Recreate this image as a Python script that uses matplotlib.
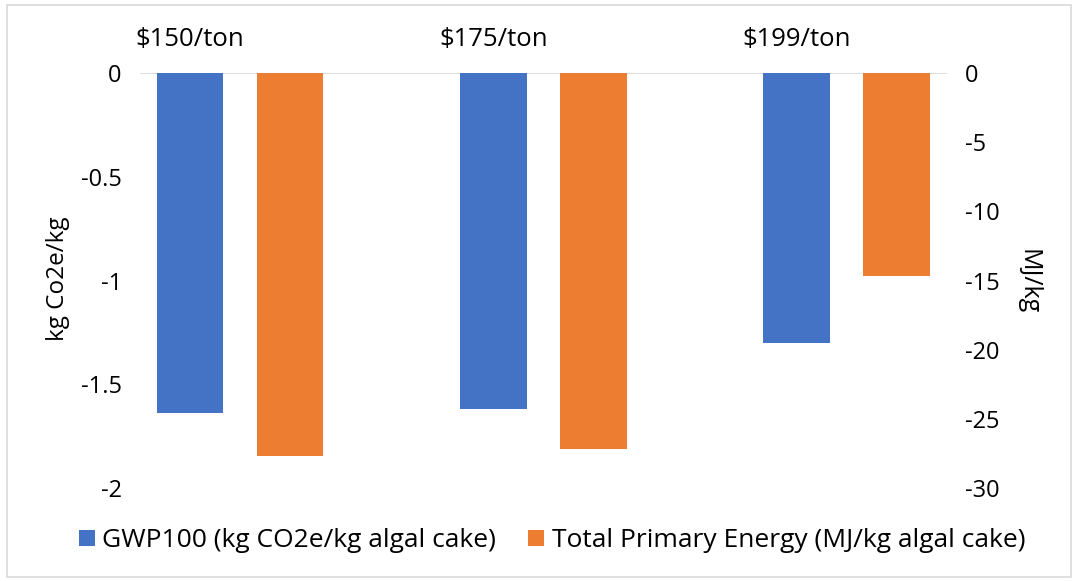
import numpy as np
import matplotlib.pyplot as plt
from matplotlib.patches import Rectangle

plt.rcParams['font.family'] = ['Open Sans', 'DejaVu Sans']
plt.rcParams['axes.unicode_minus'] = False

prices = ['$150/ton', '$175/ton', '$199/ton']
gwp = [-1.64, -1.62, -1.30]          # kg CO2e / kg algal cake
energy = [-27.7, -27.2, -14.7]       # MJ / kg algal cake

left_ticks = [0, -0.5, -1, -1.5, -2]
left_labels = ['0', '-0.5', '-1', '-1.5', '-2']
right_ticks = [0, -5, -10, -15, -20, -25, -30]

blue = '#4472C4'
orange = '#ED7D31'
grid = '#D9D9D9'

fig = plt.figure(figsize=(10.76, 5.81), dpi=100)
ax = fig.add_axes([0.130, 0.160, 0.750, 0.7144])
ax2 = ax.twinx()

x = np.arange(len(prices))
w = 0.22
off = 0.165

ax.bar(x - off, gwp, width=w, color=blue, label='GWP100 (kg CO2e/kg algal cake)', zorder=3)
ax2.bar(x + off, energy, width=w, color=orange, label='Total Primary Energy (MJ/kg algal cake)', zorder=3)

ax.set_xlim(-0.33, 2.33)
ax.set_ylim(-2, 0)
ax2.set_ylim(-30, 0)
ax.axhline(0, color=grid, lw=1.3, zorder=2)

ax.set_xticks([])
ax.set_yticks(left_ticks)
ax.set_yticklabels(left_labels)
ax2.set_yticks(right_ticks)
ax.tick_params(axis='y', length=0, pad=13, labelsize=17)
ax2.tick_params(axis='y', length=0, pad=13, labelsize=17)

for a in (ax, ax2):
    for s in a.spines.values():
        s.set_visible(False)

# price labels sit above the GWP bars
for xi, p in zip(x, prices):
    ax.text(xi - off, 1.08, p, transform=ax.get_xaxis_transform(),
            ha='center', va='center', fontsize=18.5)

fig.text(0.054, 0.521, 'kg Co2e/kg', rotation=90, ha='center', va='center', fontsize=17.5)
fig.text(0.955, 0.516, 'MJ/kg', rotation=270, ha='center', va='center', fontsize=18)

h1, l1 = ax.get_legend_handles_labels()
h2, l2 = ax2.get_legend_handles_labels()
fig.legend(h1 + h2, l1 + l2, loc='center', bbox_to_anchor=(0.513, 0.069), ncol=2,
           frameon=False, fontsize=19, handlelength=0.6, handleheight=0.6,
           handletextpad=0.3, columnspacing=1.2)

fig.patches.append(Rectangle((7 / 1076, 4 / 581), 1064 / 1076, 572 / 581,
                             transform=fig.transFigure, fill=False,
                             edgecolor=grid, lw=1.2))

fig.savefig('out.png', dpi=100)
